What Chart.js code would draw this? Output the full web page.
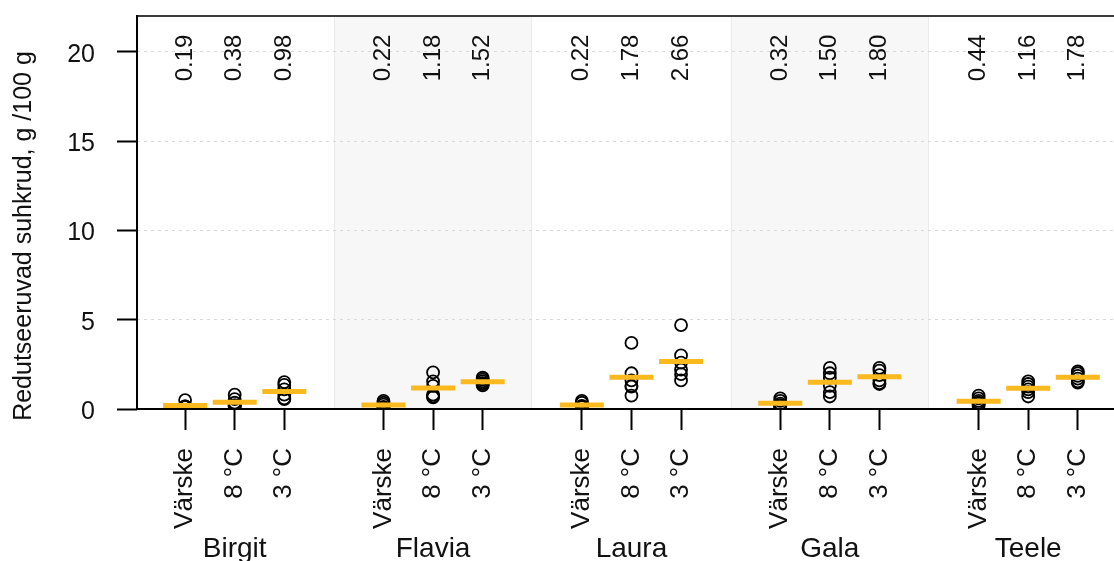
<!DOCTYPE html>
<html>
<head>
<meta charset="utf-8">
<script src="https://cdn.jsdelivr.net/npm/chart.js@4/dist/chart.umd.min.js"></script>
<style>
  html, body { margin: 0; padding: 0; background: #fff; overflow: hidden; }
  canvas { display: block; }
</style>
</head>
<body>
<canvas id="chart" width="1114" height="561"></canvas>
<script>
// Cultivars and storage treatments
const cultivars = ['Birgit', 'Flavia', 'Laura', 'Gala', 'Teele'];
const treatments = ['Värske', '8 °C', '3 °C'];

// Reducing sugars per sample (g/100 g), one inner array per treatment
const birgit = [[0.50, 0.15, 0.12, 0.12, 0.10, 0.15], [0.80, 0.55, 0.35, 0.20, 0.20, 0.15], [1.50, 1.35, 1.10, 0.80, 0.60, 0.55]];
const flavia = [[0.45, 0.35, 0.25, 0.10, 0.10, 0.07], [2.05, 1.55, 1.30, 0.80, 0.70, 0.65], [1.75, 1.65, 1.55, 1.45, 1.40, 1.32]];
const laura  = [[0.45, 0.35, 0.15, 0.10, 0.10, 0.17], [3.70, 2.00, 1.60, 1.30, 1.25, 0.75], [4.70, 3.00, 2.60, 2.20, 1.95, 1.60]];
const gala   = [[0.60, 0.45, 0.30, 0.20, 0.20, 0.17], [2.30, 2.00, 1.75, 1.30, 0.95, 0.70], [2.30, 2.15, 1.90, 1.60, 1.45, 1.40]];
const teele  = [[0.75, 0.60, 0.45, 0.35, 0.30, 0.20], [1.55, 1.40, 1.25, 1.10, 0.95, 0.70], [2.10, 2.00, 1.85, 1.70, 1.55, 1.48]];

// Group means, printed at the top and drawn as orange bars
const meanValues = [0.19, 0.38, 0.98, 0.22, 1.18, 1.52, 0.22, 1.78, 2.66, 0.32, 1.50, 1.80, 0.44, 1.16, 1.78];
const meanLabels = ['0.19', '0.38', '0.98', '0.22', '1.18', '1.52', '0.22', '1.78', '2.66', '0.32', '1.50', '1.80', '0.44', '1.16', '1.78'];

const yTicks = [0, 5, 10, 15, 20];
const yTitle = 'Redutseeruvad suhkrud, g /100 g';

const samplesByCultivar = [birgit, flavia, laura, gala, teele];
const shadedGroups = [1, 3];

const FONT = '"Liberation Sans", Arial, Helvetica, sans-serif';
const INK = '#111111';
const ORANGE = '#FAB91E';

// slot on the x axis: three treatments per cultivar, one empty slot between cultivars
const slot = (g, t) => 4 * g + t + 1;
const tickSlots = [];
cultivars.forEach((c, g) => treatments.forEach((t, k) => tickSlots.push(slot(g, k))));

const pointData = [];
samplesByCultivar.forEach((groups, g) => {
  groups.forEach((vals, t) => vals.forEach(v => pointData.push({ x: slot(g, t), y: v })));
});
const meanData = meanValues.map((v, i) => ({ x: tickSlots[i], y: v }));

const decor = {
  id: 'decor',
  beforeDraw(chart) {
    const { ctx, chartArea: a, scales: { x } } = chart;
    ctx.save();
    shadedGroups.forEach(g => {
      const x0 = x.getPixelForValue(4 * g);
      const x1 = x.getPixelForValue(4 * g + 4);
      ctx.fillStyle = '#f7f7f7';
      ctx.fillRect(x0, a.top, x1 - x0, a.bottom - a.top);
      ctx.strokeStyle = '#ebebeb';
      ctx.lineWidth = 1;
      ctx.beginPath();
      ctx.moveTo(Math.round(x0) + 0.5, a.top); ctx.lineTo(Math.round(x0) + 0.5, a.bottom);
      ctx.moveTo(Math.round(x1) - 0.5, a.top); ctx.lineTo(Math.round(x1) - 0.5, a.bottom);
      ctx.stroke();
    });
    ctx.restore();
  },
  afterDraw(chart) {
    const { ctx, chartArea: a, scales: { x, y } } = chart;
    ctx.save();
    // frame: top rule, left and bottom axes
    ctx.lineWidth = 2;
    ctx.strokeStyle = '#3a3a3a';
    ctx.beginPath(); ctx.moveTo(a.left - 1, a.top); ctx.lineTo(a.right, a.top); ctx.stroke();
    ctx.strokeStyle = '#000';
    ctx.beginPath(); ctx.moveTo(a.left, a.top - 1); ctx.lineTo(a.left, a.bottom + 1); ctx.stroke();
    ctx.beginPath(); ctx.moveTo(a.left - 1, a.bottom); ctx.lineTo(a.right, a.bottom); ctx.stroke();

    // mean values printed vertically near the top
    ctx.fillStyle = INK;
    ctx.font = '24px ' + FONT;
    ctx.textAlign = 'center';
    ctx.textBaseline = 'middle';
    const ly = y.getPixelForValue(19.65);
    meanLabels.forEach((lab, i) => {
      ctx.save();
      ctx.translate(x.getPixelForValue(tickSlots[i]), ly);
      ctx.rotate(-Math.PI / 2);
      ctx.fillText(lab, 0, 0);
      ctx.restore();
    });

    // cultivar names under the treatment labels
    ctx.font = '28px ' + FONT;
    ctx.textBaseline = 'alphabetic';
    cultivars.forEach((c, g) => {
      ctx.fillText(c, x.getPixelForValue(slot(g, 1)), 557);
    });

    // y axis title
    ctx.font = '25px ' + FONT;
    ctx.textBaseline = 'middle';
    ctx.translate(24, 236);
    ctx.rotate(-Math.PI / 2);
    ctx.fillText(yTitle, 0, 0);
    ctx.restore();
  }
};

new Chart(document.getElementById('chart'), {
  type: 'scatter',
  data: {
    datasets: [
      {
        label: 'mean',
        data: meanData,
        order: 0,
        pointStyle: 'line',
        pointRadius: 22,
        pointHoverRadius: 22,
        pointBorderWidth: 5,
        borderColor: ORANGE,
        backgroundColor: ORANGE,
        showLine: false
      },
      {
        label: 'samples',
        data: pointData,
        order: 1,
        pointStyle: 'circle',
        pointRadius: 6,
        pointHoverRadius: 6,
        pointBorderWidth: 1.8,
        borderColor: '#000',
        backgroundColor: 'rgba(0,0,0,0)',
        showLine: false
      }
    ]
  },
  options: {
    responsive: false,
    animation: false,
    events: [],
    layout: { autoPadding: false, padding: { top: 16, left: 0, right: 0, bottom: 0 } },
    plugins: { legend: { display: false }, tooltip: { enabled: false } },
    scales: {
      x: {
        type: 'linear',
        min: 0.03,
        max: 19.73,
        afterBuildTicks: s => { s.ticks = tickSlots.map(v => ({ value: v })); },
        afterFit: s => {
          s.height = 152;
          s.paddingLeft = 0; s.paddingRight = 0; s.paddingTop = 0; s.paddingBottom = 0;
        },
        ticks: {
          autoSkip: false,
          minRotation: 90,
          maxRotation: 90,
          padding: 18,
          color: INK,
          font: { family: FONT, size: 26 },
          callback: v => treatments[(Math.round(v) - 1) % 4]
        },
        grid: {
          drawOnChartArea: false,
          drawTicks: true,
          tickLength: 21,
          tickWidth: 2,
          tickColor: '#000'
        },
        border: { display: false }
      },
      y: {
        min: 0,
        max: 22,
        afterBuildTicks: s => { s.ticks = yTicks.map(v => ({ value: v })); },
        afterFit: s => {
          s.width = 137;
          s.paddingLeft = 0; s.paddingRight = 0; s.paddingTop = 0; s.paddingBottom = 0;
        },
        ticks: {
          padding: 22,
          labelOffset: 3,
          color: INK,
          font: { family: FONT, size: 25 },
          callback: v => String(v)
        },
        grid: {
          color: '#d9d9d9',
          lineWidth: 1,
          tickLength: 20,
          tickWidth: 2,
          tickColor: '#000'
        },
        border: { display: false, dash: [3, 4] }
      }
    }
  },
  plugins: [decor]
});
</script>
</body>
</html>
